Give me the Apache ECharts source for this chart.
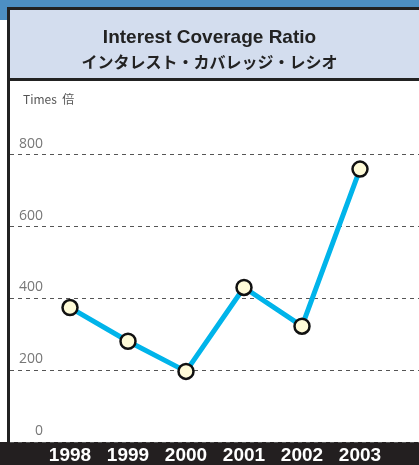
<!DOCTYPE html>
<html lang="en">
<head>
    <meta charset="UTF-8">
    <title>Interest Coverage Ratio</title>
    <script src="https://cdn.jsdelivr.net/npm/echarts@6/dist/echarts.min.js"></script>
    <style>
        html, body { margin: 0; padding: 0; background: #fff; }
        #chart { width: 419px; height: 465px; }
    </style>
</head>
<body>
    <div id="chart"></div>

    <script>
        // 数据
        var years = ['1998', '1999', '2000', '2001', '2002', '2003'];
        var ratios = [372, 278, 194, 428, 320, 758];
        var yTicks = [0, 200, 400, 600, 800];

        var chart = echarts.init(document.getElementById('chart'));

        var option = {
            animation: false,
            title: [
                {
                    text: 'Interest Coverage Ratio',
                    left: 'center',
                    top: 23,
                    textStyle: { fontFamily: 'Liberation Sans', fontSize: 19, fontWeight: 'bold', color: '#222' }
                },
                {
                    text: 'インタレスト・カバレッジ・レシオ',
                    left: 'center',
                    top: 49,
                    textStyle: { fontFamily: 'Noto Sans CJK JP', fontSize: 16, fontWeight: 'bold', color: '#222' }
                },
                {
                    text: 'Times  倍',
                    left: 18,
                    top: 88,
                    textStyle: { fontFamily: 'Noto Sans CJK JP', fontSize: 12, fontWeight: 'normal', color: '#555' }
                }
            ],
            graphic: [
                { type: 'rect', z: -10, shape: { x: 0, y: 0, width: 419, height: 7 }, style: { fill: '#4d8fc3' } },
                { type: 'rect', z: -10, shape: { x: 0, y: 0, width: 7, height: 20 }, style: { fill: '#4d8fc3' } },
                { type: 'rect', z: -10, shape: { x: 8.5, y: 8.5, width: 415, height: 71 }, style: { fill: '#d3ddee', stroke: '#222', lineWidth: 3 } },
                { type: 'line', z: -10, shape: { x1: 8.5, y1: 80, x2: 8.5, y2: 442 }, style: { stroke: '#222', lineWidth: 3 } },
                { type: 'rect', z: -10, shape: { x: 0, y: 442, width: 419, height: 23 }, style: { fill: '#231f20' } }
            ],
            grid: [
                { left: 10, right: 0, top: 154, bottom: 23 },
                { left: 41, right: 30, top: 154, bottom: 23 }
            ],
            xAxis: [
                { gridIndex: 0, type: 'value', show: false },
                {
                    gridIndex: 1,
                    type: 'category',
                    data: years,
                    boundaryGap: true,
                    axisLine: { show: false },
                    axisTick: { show: false },
                    axisLabel: {
                        color: '#fff',
                        fontFamily: 'Liberation Sans',
                        fontWeight: 'bold',
                        fontSize: 19,
                        margin: 5
                    }
                }
            ],
            yAxis: [
                {
                    gridIndex: 0,
                    type: 'value',
                    min: 0,
                    max: 800,
                    interval: 200,
                    axisLine: { show: false },
                    axisTick: { show: false },
                    axisLabel: { show: false },
                    splitLine: {
                        show: true,
                        lineStyle: { color: '#555', type: [4, 4], width: 1 }
                    }
                },
                {
                    gridIndex: 1,
                    type: 'value',
                    min: yTicks[0],
                    max: yTicks[yTicks.length - 1],
                    interval: 200,
                    axisLine: { show: false },
                    axisTick: { show: false },
                    splitLine: { show: false },
                    axisLabel: {
                        color: '#777',
                        fontFamily: 'Open Sans',
                        fontSize: 14,
                        align: 'right',
                        verticalAlign: 'bottom',
                        margin: -2,
                        padding: [0, 0, 3, 0]
                    }
                }
            ],
            series: [
                {
                    type: 'line',
                    xAxisIndex: 1,
                    yAxisIndex: 1,
                    data: ratios,
                    symbol: 'circle',
                    symbolSize: 15,
                    lineStyle: { color: '#00b4ea', width: 5 },
                    itemStyle: { color: '#fffbd8', borderColor: '#111', borderWidth: 2.5 },
                    z: 5
                }
            ]
        };

        chart.setOption(option);
    </script>
</body>
</html>
